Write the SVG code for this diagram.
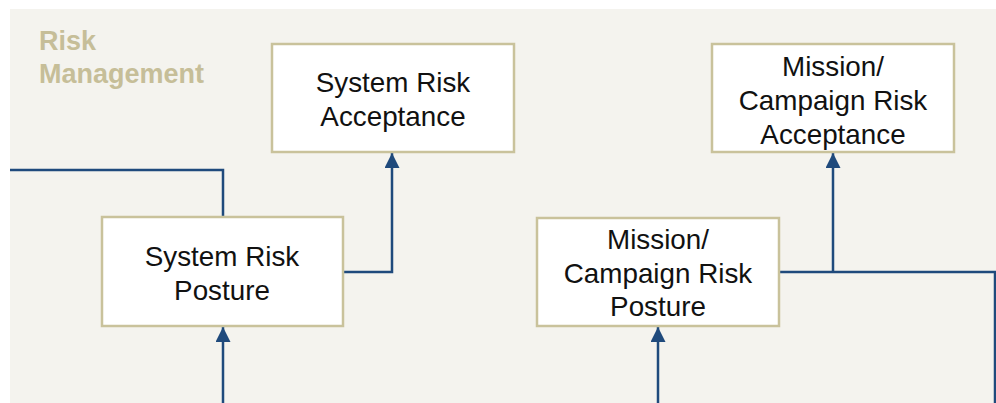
<svg xmlns="http://www.w3.org/2000/svg" width="996" height="403" viewBox="0 0 996 403">
  <defs>
    <marker id="arrow" viewBox="0 0 10 10" refX="10" refY="5" markerWidth="6" markerHeight="6" markerUnits="strokeWidth" orient="auto">
      <path d="M0,0 L10,5 L0,10 z" fill="#1f4a7c"/>
    </marker>
    <style>
      .panel { fill: #f4f3ee; }
      .title { font-family: "Liberation Sans", Arial, sans-serif; font-weight: bold; font-size: 27px; fill: #c6be98; }
      .box { fill: #ffffff; stroke: #c9c29b; stroke-width: 2.5; }
      .label { font-family: "Liberation Sans", Arial, sans-serif; font-size: 27.8px; fill: #111111; text-anchor: middle; }
      .wire { fill: none; stroke: #1f4a7c; stroke-width: 2.5; }
      .arrowed { marker-end: url(#arrow); }
    </style>
  </defs>

  <rect x="0" y="0" width="996" height="403" fill="#ffffff"/>
  <rect class="panel" x="10" y="9" width="986" height="394"/>

  <text class="title" x="39" y="50">Risk</text>
  <text class="title" x="39" y="83">Management</text>

  <g id="connectors">
    <polyline class="wire" points="10,170 223,170 223,217"/>
    <line class="wire arrowed" x1="223" y1="403" x2="223" y2="327"/>
    <polyline class="wire arrowed" points="344,272 392,272 392,153"/>
    <line class="wire arrowed" x1="658" y1="403" x2="658" y2="327"/>
    <polyline class="wire" points="779,272 995,272 995,403"/>
    <line class="wire arrowed" x1="833" y1="272" x2="833" y2="153"/>
  </g>

  <g id="system-risk-acceptance">
    <rect class="box" x="272" y="44" width="242" height="108"/>
    <text class="label" x="393" y="92">System Risk</text>
    <text class="label" x="393" y="126">Acceptance</text>
  </g>

  <g id="system-risk-posture">
    <rect class="box" x="102" y="217" width="241" height="109"/>
    <text class="label" x="222" y="266">System Risk</text>
    <text class="label" x="222" y="300">Posture</text>
  </g>

  <g id="mission-risk-acceptance">
    <rect class="box" x="712" y="44" width="242" height="108"/>
    <text class="label" x="833" y="76">Mission/</text>
    <text class="label" x="833" y="110">Campaign Risk</text>
    <text class="label" x="833" y="144">Acceptance</text>
  </g>

  <g id="mission-risk-posture">
    <rect class="box" x="537" y="218" width="242" height="108"/>
    <text class="label" x="658" y="249">Mission/</text>
    <text class="label" x="658" y="283">Campaign Risk</text>
    <text class="label" x="658" y="316">Posture</text>
  </g>
</svg>
